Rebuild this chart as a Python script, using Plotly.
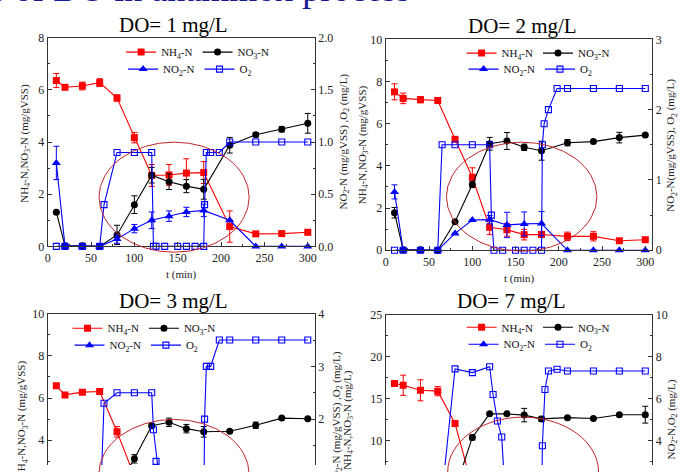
import plotly.graph_objects as go

SERIF = "Liberation Serif"
W, H = 681, 472

# ---------------- data ----------------
T = [10, 20, 40, 60, 80, 100, 120, 140, 160, 180, 210, 240, 270, 300]
T_O2 = [10, 20, 40, 60, 65, 80, 100, 120, 122, 125, 135, 150, 160, 170, 180, 181, 183, 188, 198, 210, 240, 270, 300]
T_O2_7 = [10, 20, 40, 60, 65, 80, 100, 120, 124, 129, 134, 140, 150, 160, 170, 180, 181, 184, 188, 198, 210, 240, 270, 300]

# DO = 1 mg/L
nh4_1 = [6.36, 6.10, 6.15, 6.28, 5.69, 4.17, 2.72, 2.74, 2.81, 2.83, 0.76, 0.48, 0.49, 0.54]
nh4_1_err = [0.27, 0, 0.15, 0.15, 0.12, 0.2, 0.42, 0.4, 0.55, 0.42, 0.6, 0, 0, 0]
no3_1 = [1.31, 0.02, 0.02, 0.0, 0.44, 1.60, 2.73, 2.48, 2.31, 2.19, 3.88, 4.28, 4.49, 4.72]
no3_1_err = [0, 0, 0, 0, 0.37, 0.34, 0.3, 0.3, 0.25, 0.38, 0.3, 0.08, 0.1, 0.38]
no2_1 = [0.80, 0, 0, 0, 0.07, 0.17, 0.25, 0.29, 0.33, 0.345, 0.25, 0, 0, 0]
no2_1_err = [0.16, 0, 0, 0, 0.04, 0.04, 0.08, 0.05, 0.045, 0.06, 0, 0, 0, 0]
o2_1 = [0, 0, 0, 0, 0.4, 0.9, 0.9, 0.9, 0, 0, 0, 0, 0, 0, 0, 0.4, 0.9, 0.9, 0.9, 1.0, 1.0, 1.0, 1.0]

# DO = 2 mg/L
nh4_2 = [7.51, 7.20, 7.14, 7.10, 5.26, 3.46, 1.09, 0.97, 0.74, 0.75, 0.66, 0.66, 0.45, 0.50]
nh4_2_err = [0.38, 0.25, 0.15, 0, 0.1, 0.45, 0.35, 0.3, 0.25, 0, 0.2, 0.22, 0, 0]
no3_2 = [1.78, 0.02, 0.02, 0.0, 1.35, 3.12, 5.05, 5.18, 4.88, 4.72, 5.10, 5.15, 5.34, 5.46]
no3_2_err = [0.25, 0, 0, 0, 0, 0.15, 0.3, 0.4, 0.15, 0.45, 0.15, 0, 0.25, 0]
no2_2 = [0.83, 0, 0, 0, 0.24, 0.43, 0.435, 0.36, 0.375, 0.38, 0, 0, 0, 0]
no2_2_err = [0.1, 0, 0, 0, 0, 0, 0.06, 0.18, 0.17, 0.17, 0, 0, 0, 0]
o2_2 = [0, 0, 0, 0, 1.5, 1.5, 1.5, 1.5, 0.5, 0, 0, 0, 0, 0, 0, 1.5, 1.8, 2.0, 2.3, 2.3, 2.3, 2.3, 2.3]

# DO = 3 mg/L
nh4_3 = [6.58, 6.15, 6.28, 6.31, 4.40, 2.30, 1.20, 1.00, 0.80, 0.70, 0.60, 0.50, 0.50, 0.50]
nh4_3_err = [0.1, 0.1, 0.1, 0.05, 0.25, 0, 0, 0, 0, 0, 0, 0, 0, 0]
no3_3 = [0.50, 0.02, 0.02, 0.02, 1.80, 3.12, 4.69, 4.85, 4.55, 4.40, 4.43, 4.71, 5.05, 5.02]
no3_3_err = [0, 0, 0, 0, 0, 0.2, 0.1, 0.2, 0.2, 0.25, 0, 0.15, 0, 0]
no2_3 = [0.30, 0, 0, 0, 0.20, 0.40, 0.45, 0.40, 0.35, 0.30, 0, 0, 0, 0]
no2_3_err = [0, 0, 0, 0, 0, 0, 0, 0, 0, 0, 0, 0, 0, 0]
o2_3 = [0, 0, 0, 0, 2.3, 2.5, 2.5, 2.5, 1.8, 1.2, 0, 0, 0, 0, 0, 2.0, 3.0, 3.0, 3.5, 3.5, 3.5, 3.5, 3.5]

# DO = 7 mg/L
nh4_7 = [16.8, 16.6, 16.0, 15.9, 12.05, 4.5, 2.0, 1.5, 1.2, 1.0, 0.8, 0.6, 0.5, 0.5]
nh4_7_err = [0.2, 1.2, 1.25, 0.55, 0, 0, 0, 0, 0, 0, 0, 0, 0, 0]
no3_7 = [0.5, 0.1, 0.1, 0.1, 4.2, 10.4, 13.2, 13.2, 13.05, 12.6, 12.75, 12.65, 13.1, 13.1]
no3_7_err = [0, 0, 0, 0, 0, 0.3, 0, 0, 0.8, 0.3, 0, 0, 0, 1.0]
no2_7 = [1.0, 0, 0, 0, 0.5, 1.0, 1.2, 1.1, 1.0, 0.9, 0, 0, 0, 0]
no2_7_err = [0, 0, 0, 0, 0, 0, 0, 0, 0, 0, 0, 0, 0, 0]
o2_7 = [0, 0, 0, 0, 1.5, 7.42, 7.24, 7.52, 6.2, 4.94, 4.18, 0, 0, 0, 0, 0, 3.76, 6.44, 7.32, 7.4, 7.32, 7.32, 7.32, 7.32]

titles = ["DO= 1 mg/L", "DO= 2 mg/L", "DO= 3 mg/L", "DO= 7 mg/L"]
left_titles = ["NH<sub>4</sub>-N,NO<sub>3</sub>-N (mg/gVSS)", "NH<sub>4</sub>-N,NO<sub>3</sub>-N (mg/gVSS)",
               "NH<sub>4</sub>-N,NO<sub>3</sub>-N (mg/gVSS)", "NH<sub>4</sub>-N,NO<sub>3</sub>-N (mg/L)"]
right_titles = ["NO<sub>2</sub>-N (mg/gVSS) ,O<sub>2</sub> (mg/L)", "NO<sub>2</sub>-N(mg/gVSS), O<sub>2</sub> (mg/L)",
                "NO<sub>2</sub>-N (mg/gVSS) ,O<sub>2</sub> (mg/L)", "NO<sub>2</sub>-N,O<sub>2</sub> (mg/L)"]
series_names = ["NH<sub>4</sub>-N", "NO<sub>3</sub>-N", "NO<sub>2</sub>-N", "O<sub>2</sub>"]

panels = [
    dict(nh4=nh4_1, nh4e=nh4_1_err, no3=no3_1, no3e=no3_1_err, no2=no2_1, no2e=no2_1_err, to2=T_O2, o2=o2_1),
    dict(nh4=nh4_2, nh4e=nh4_2_err, no3=no3_2, no3e=no3_2_err, no2=no2_2, no2e=no2_2_err, to2=T_O2, o2=o2_2),
    dict(nh4=nh4_3, nh4e=nh4_3_err, no3=no3_3, no3e=no3_3_err, no2=no2_3, no2e=no2_3_err, to2=T_O2, o2=o2_3),
    dict(nh4=nh4_7, nh4e=nh4_7_err, no3=no3_7, no3e=no3_7_err, no2=no2_7, no2e=no2_7_err, to2=T_O2_7, o2=o2_7),
]

# ---------------- layout geometry (pixels) ----------------
def px(x):
    return x / W

def py(y):
    return 1 - y / H

# plot boxes: left, right, top, bottom (pixels)
boxes = [(45, 314, 31.7, 246.7), (385.7, 654, 33.3, 250.7), (45, 314, 316, H), (385.7, 654, 317, H)]
left_ranges = [[0, 8], [0, 10], [2.828, 10], [7.12, 25]]
right_ranges = [[0, 2], [0, 3], [1.131, 4], [2.847, 10]]
left_dtick = [2, 2, 2, 5]
right_dtick = [0.5, 1, 1, 2]
right_fmt = [".1f", "", "", ""]

RED, BLK, BLU = "#ff0000", "#000000", "#0000ff"
AX = "#333333"
tickfont = dict(family=SERIF, size=12, color="#222")

fig = go.Figure()

for i, p in enumerate(panels):
    xa = "x" if i == 0 else f"x{i+1}"
    yl = f"y{2*i+1}" if i > 0 else "y"
    yr = f"y{2*i+2}"
    clip = i >= 2
    lg1 = "legend" if i == 0 else f"legend{2*i+1}"
    lg2 = f"legend{2*i+2}"
    common = dict(mode="lines+markers", cliponaxis=clip, xaxis=xa)

    fig.add_trace(go.Scatter(x=T, y=p["nh4"], name=series_names[0], yaxis=yl, legend=lg1,
                             line=dict(color=RED, width=1.1),
                             marker=dict(symbol="square", size=7, color=RED),
                             error_y=dict(type="data", array=p["nh4e"], color=RED, thickness=1, width=3),
                             **common))
    fig.add_trace(go.Scatter(x=T, y=p["no3"], name=series_names[1], yaxis=yl, legend=lg1,
                             line=dict(color=BLK, width=1.1),
                             marker=dict(symbol="circle", size=7, color=BLK),
                             error_y=dict(type="data", array=p["no3e"], color=BLK, thickness=1, width=3),
                             **common))
    fig.add_trace(go.Scatter(x=T, y=p["no2"], name=series_names[2], yaxis=yr, legend=lg2,
                             line=dict(color=BLU, width=1.1),
                             marker=dict(symbol="triangle-up", size=8, color=BLU),
                             error_y=dict(type="data", array=p["no2e"], color=BLU, thickness=1, width=3),
                             **common))
    fig.add_trace(go.Scatter(x=p["to2"], y=p["o2"], name=series_names[3], yaxis=yr, legend=lg2,
                             line=dict(color=BLU, width=1.1),
                             marker=dict(symbol="square-open", size=6, color=BLU, line=dict(width=1.1)),
                             **common))

layout = dict(
    width=W, height=H, margin=dict(l=0, r=0, t=0, b=0),
    paper_bgcolor="white", plot_bgcolor="rgba(0,0,0,0)",
    font=dict(family=SERIF, color="#111"),
    showlegend=True,
)

annotations = []
shapes = []

legend_pos = [(119, 46.5, 64), (462, 47.5, 64), (65, 331, 348.5), (462, 330, 347.5)]

for i in range(4):
    l, r, t, b = boxes[i]
    xk = "xaxis" if i == 0 else f"xaxis{i+1}"
    ylk = "yaxis" if i == 0 else f"yaxis{2*i+1}"
    yrk = f"yaxis{2*i+2}"
    yl = "y" if i == 0 else f"y{2*i+1}"
    xa = "x" if i == 0 else f"x{i+1}"
    bottom = i >= 2
    layout[xk] = dict(
        domain=[px(l), px(r)], anchor=yl, range=[0, 308],
        tickvals=[0, 50, 100, 150, 200, 250, 300],
        ticks="" if bottom else "inside", ticklen=4, tickcolor=AX,
        minor=dict(ticks="" if bottom else "inside", ticklen=2, dtick=25, tickcolor=AX),
        showline=True, linecolor=AX, linewidth=1.2,
        mirror=False if bottom else True, side="top" if bottom else "bottom",
        showticklabels=not bottom, showgrid=False, zeroline=False, tickfont=tickfont,
    )
    layout[ylk] = dict(
        domain=[py(b), py(t)], anchor=xa, range=left_ranges[i], dtick=left_dtick[i], tick0=0,
        ticks="inside", ticklen=4, tickcolor=AX,
        minor=dict(ticks="inside", ticklen=2, dtick=left_dtick[i] / 2, tickcolor=AX),
        showline=True, linecolor=AX, linewidth=1.2, showgrid=False, zeroline=False,
        tickfont=tickfont,
    )
    layout[yrk] = dict(
        overlaying=yl, side="right", anchor=xa, range=right_ranges[i], dtick=right_dtick[i], tick0=0,
        tickformat=right_fmt[i],
        ticks="inside", ticklen=4, tickcolor=AX,
        minor=dict(ticks="inside", ticklen=2, dtick=right_dtick[i] / 2, tickcolor=AX),
        showline=True, linecolor=AX, linewidth=1.2, showgrid=False, zeroline=False,
        tickfont=tickfont,
    )

    # legends (two rows)
    lx, ly1, ly2 = legend_pos[i]
    lg1 = "legend" if i == 0 else f"legend{2*i+1}"
    lg2 = f"legend{2*i+2}"
    for lk, yy, xx in ((lg1, ly1, lx), (lg2, ly2, lx + 2)):
        layout[lk] = dict(orientation="h", x=px(xx), y=py(yy), xanchor="left", yanchor="middle",
                          bgcolor="rgba(0,0,0,0)", borderwidth=0, itemwidth=30,
                          font=dict(family=SERIF, size=11, color="#111"), tracegroupgap=0)

title_pos = [(171.7, 18.5), (523, 20), (171.7, 303.5), (512.5, 303.5)]
for i, (tx, ty) in enumerate(title_pos):
    annotations.append(dict(text=titles[i], x=px(tx), y=py(ty), xref="paper", yref="paper",
                            xanchor="center", yanchor="middle", showarrow=False,
                            font=dict(family=SERIF, size=21, color="#000")))

ltitle_pos = [(22, 140), (362, 142), (20, 425), (348, 425)]
rtitle_pos = [(343, 138), (673, 143), (337, 425), (674, 425)]
for i in range(4):
    for (tx, ty), txt in ((ltitle_pos[i], left_titles[i]), (rtitle_pos[i], right_titles[i])):
        annotations.append(dict(text=txt, x=px(tx), y=py(ty), xref="paper", yref="paper",
                                xanchor="center", yanchor="middle", textangle=-90, showarrow=False,
                                font=dict(family=SERIF, size=11, color="#222")))

for tx, ty in ((179.5, 276), (520, 279.5)):
    annotations.append(dict(text="t (min)", x=px(tx), y=py(ty), xref="paper", yref="paper",
                            xanchor="center", yanchor="middle", showarrow=False,
                            font=dict(family=SERIF, size=11, color="#222")))

# slide heading (cut off at top of the picture)
annotations.append(dict(text="Effects of DO in anammox process", x=px(412), y=py(4), xref="paper",
                        yref="paper", xanchor="right", yanchor="bottom", showarrow=False,
                        font=dict(family=SERIF, size=36, color="#1a1a96")))

# highlight ellipses
ellipses = [(96.7, 248, 139.3, 252.7), (446.7, 598.3, 139.3, 251.7), (96.5, 248, 425, 538), (448, 600, 422.7, 535.7)]
for x0, x1, y0, y1 in ellipses:
    shapes.append(dict(type="circle", xref="paper", yref="paper", x0=px(x0), x1=px(x1), y0=py(y1), y1=py(y0),
                       line=dict(color="#c0262d", width=1)))

layout["annotations"] = annotations
layout["shapes"] = shapes
fig.update_layout(**layout)

fig.write_html("out.html")
